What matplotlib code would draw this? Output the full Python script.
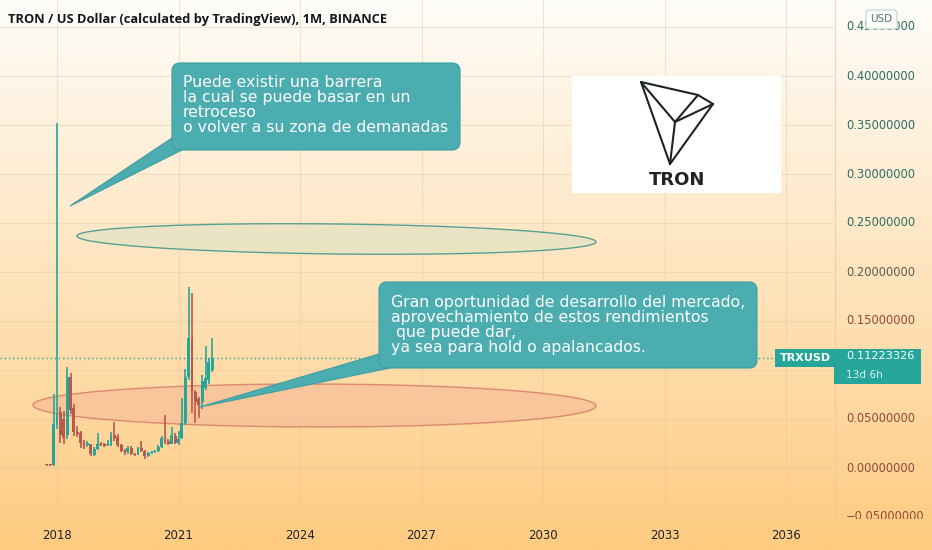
import matplotlib
matplotlib.use("Agg")
import matplotlib.pyplot as plt
import matplotlib.patches as mpatches
from matplotlib.transforms import Affine2D
import numpy as np
import pandas as pd

W, H = 932, 550

# monthly TRX/USD candles
months = pd.period_range("2017-10", "2021-11", freq="M")
opens = [0.0035, 0.0030, 0.0028, 0.0450, 0.0570, 0.0500, 0.0340, 0.0930, 0.0610, 0.0370,
         0.0360, 0.0270, 0.0230, 0.0240, 0.0135, 0.0195, 0.0250, 0.0240, 0.0230, 0.0230,
         0.0340, 0.0320, 0.0230, 0.0170, 0.0160, 0.0200, 0.0140, 0.0135, 0.0200, 0.0170,
         0.0120, 0.0150, 0.0160, 0.0170, 0.0210, 0.0310, 0.0280, 0.0250, 0.0330, 0.0260,
         0.0310, 0.0460, 0.0930, 0.1330, 0.0780, 0.0700, 0.0670, 0.0820, 0.0900, 0.1000]
highs = [0.0040, 0.0036, 0.0760, 0.3520, 0.0620, 0.0580, 0.1030, 0.0970, 0.0650, 0.0430,
         0.0380, 0.0290, 0.0280, 0.0250, 0.0215, 0.0360, 0.0270, 0.0260, 0.0290, 0.0370,
         0.0470, 0.0350, 0.0250, 0.0190, 0.0220, 0.0220, 0.0150, 0.0215, 0.0280, 0.0180,
         0.0160, 0.0175, 0.0185, 0.0230, 0.0330, 0.0540, 0.0300, 0.0420, 0.0360, 0.0380,
         0.0710, 0.1010, 0.1850, 0.1790, 0.0800, 0.0720, 0.0950, 0.1240, 0.1120, 0.1330]
lows = [0.0025, 0.0025, 0.0025, 0.0400, 0.0260, 0.0250, 0.0300, 0.0550, 0.0330, 0.0320,
        0.0200, 0.0190, 0.0215, 0.0120, 0.0120, 0.0180, 0.0220, 0.0210, 0.0220, 0.0220,
        0.0280, 0.0210, 0.0160, 0.0130, 0.0140, 0.0130, 0.0125, 0.0130, 0.0165, 0.0095,
        0.0110, 0.0140, 0.0150, 0.0165, 0.0200, 0.0240, 0.0230, 0.0240, 0.0240, 0.0230,
        0.0300, 0.0440, 0.0900, 0.0560, 0.0460, 0.0510, 0.0600, 0.0800, 0.0860, 0.0980]
closes = [0.0030, 0.0028, 0.0450, 0.0560, 0.0340, 0.0310, 0.0930, 0.0590, 0.0370, 0.0350,
          0.0260, 0.0220, 0.0260, 0.0140, 0.0195, 0.0250, 0.0230, 0.0225, 0.0245, 0.0340,
          0.0310, 0.0230, 0.0170, 0.0160, 0.0200, 0.0140, 0.0135, 0.0200, 0.0170, 0.0120,
          0.0150, 0.0160, 0.0170, 0.0210, 0.0310, 0.0270, 0.0250, 0.0340, 0.0260, 0.0300,
          0.0460, 0.0930, 0.1330, 0.0780, 0.0670, 0.0640, 0.0890, 0.0920, 0.1080, 0.11223326]
last_price = 0.11223326
price_ticks = [-0.05, 0.0, 0.05, 0.10, 0.15, 0.20, 0.25, 0.30, 0.35, 0.40, 0.45]
year_ticks = [2018, 2021, 2024, 2027, 2030, 2033, 2036]

up_col = "#26a69a"
down_col = "#b9584d"

fig = plt.figure(figsize=(W / 100, H / 100), dpi=100)
# reference-pixel transform (x right, y down) for the drawn annotations
pix = Affine2D().scale(1 / 100, -1 / 100).translate(0, H / 100) + fig.dpi_scale_trans

# background gradient
bg = fig.add_axes([0, 0, 1, 1], zorder=-5)
top = np.array([255, 253, 250]) / 255
bot = np.array([254, 203, 128]) / 255
t = np.linspace(0, 1, 256)[:, None]
grad = (top * (1 - t) + bot * t)[:, None, :]
bg.imshow(grad, aspect="auto", extent=[0, 1, 0, 1])
bg.set_axis_off()

plot_bottom = 519
ax = fig.add_axes([0, (H - plot_bottom) / H, 834 / W, plot_bottom / H])
ax.set_facecolor("none")
ax.set_ylim((468 - plot_bottom) / 980, 468 / 980)
ax.set_xlim(-57 / 3.375, 777 / 3.375)

x = np.array([(p.year - 2018) * 12 + p.month - 1 for p in months])
o = np.array(opens)
c = np.array(closes)
cols = [up_col if cc >= oo else down_col for oo, cc in zip(o, c)]
ax.vlines(x, lows, highs, colors=cols, lw=1.2, zorder=3)
ax.bar(x, np.maximum(np.abs(c - o), 0.0012), bottom=np.minimum(o, c), width=0.82,
       color=cols, zorder=3)

ax.set_yticks(price_ticks)
ax.set_xticks([(y - 2018) * 12 for y in year_ticks])
ax.set_xticklabels([str(y) for y in year_ticks], fontsize=8.5, color="#1e222d")
ax.tick_params(axis="x", length=0, pad=7)
ax.tick_params(axis="y", length=0, labelleft=False)
ax.grid(True, color="#e3c6a4", lw=0.8, alpha=0.45)
ax.set_axisbelow(True)
for s in ax.spines.values():
    s.set_visible(False)

ax.axhline(last_price, xmin=0, xmax=775 / 834, color=up_col, lw=1, ls=(0, (1, 2)), zorder=2)


def sheared_ellipse(cx, cy, hw, hh, dy, **kw):
    tt = np.linspace(0, 2 * np.pi, 200)
    xs = cx + hw * np.cos(tt)
    ys = cy + dy * np.cos(tt) + hh * np.sin(tt)
    return mpatches.Polygon(np.column_stack([xs, ys]), closed=True, **kw)


# zones drawn on the chart
ax.add_patch(sheared_ellipse(82.8, 0.2337, 76.9, 0.0153, -0.0030,
                             fc="#e9e4c4", ec="#4e9e92", lw=1.0, alpha=0.95, zorder=4))
ax.add_patch(sheared_ellipse(76.3, 0.0638, 83.4, 0.0219, -0.0005,
                             fc="#f6b896", ec="#c0504d", lw=1.0, alpha=0.55, zorder=2.5))

# price scale
ax2 = fig.add_axes([834 / W, (H - plot_bottom) / H, 98 / W, plot_bottom / H])
ax2.set_facecolor("none")
ax2.set_ylim(ax.get_ylim())
ax2.set_xlim(0, 98)
ax2.set_axis_off()
ax2.axvline(0.5, color="#e3c6a4", lw=0.8, alpha=0.7)
for v in price_ticks:
    f = np.clip((v - 0.15) / 0.10, 0, 1)
    col = np.array([0.56, 0.29, 0.24]) * (1 - f) + np.array([0.18, 0.43, 0.40]) * f
    ax2.text(12, v, f"{v:.8f}".replace("-", "\u2212"), fontsize=8.3, color=col,
             va="center", ha="left", clip_on=True)

# title
title = fig.text(8, 19, "TRON / US Dollar (calculated by TradingView), 1M, BINANCE",
                 transform=pix, fontsize=8, fontweight="bold", family="Open Sans",
                 color="#131722", va="center", ha="left")
r = fig.canvas.get_renderer()
title.set_fontsize(8 * 379 / title.get_window_extent(r).width)

# USD badge
fig.add_artist(mpatches.FancyBboxPatch((866, 10), 31, 19, boxstyle="round,pad=0,rounding_size=3",
                                       transform=pix, fc="#fffdfa", ec="#b9d6d2", lw=0.8))
fig.text(881.5, 19.5, "USD", transform=pix, fontsize=7.5, color="#4a7a74",
         ha="center", va="center")

# last price tag
fig.add_artist(mpatches.Rectangle((775, 349), 59, 18, transform=pix, fc=up_col, ec="none"))
fig.add_artist(mpatches.Rectangle((834, 349), 87, 35, transform=pix, fc=up_col, ec="none"))
fig.text(780, 358, "TRXUSD", transform=pix, fontsize=8, fontweight="bold", color="white",
         va="center", ha="left")
fig.text(846, 356, f"{last_price:.8f}", transform=pix, fontsize=8.2, color="white",
         va="center", ha="left")
fig.text(846, 375.5, "13d 6h", transform=pix, fontsize=7.6, color="#d6f0ec",
         va="center", ha="left")

# TRON logo
fig.add_artist(mpatches.Rectangle((572, 76), 209, 117, transform=pix, fc="white", ec="none"))
A, B, C, D, E = (641, 82), (698, 95), (713, 104), (675, 122), (670, 164)
for p, q in [(A, B), (B, C), (C, E), (E, A), (A, D), (D, E), (D, C), (B, D)]:
    fig.add_artist(plt.Line2D([p[0], q[0]], [p[1], q[1]], transform=pix,
                              color="#1c2424", lw=1.5, solid_capstyle="round"))
fig.text(677, 180, "TRON", transform=pix, fontsize=13, fontweight="bold", color="#222222",
         ha="center", va="center")

# callouts
box_fc = "#4badb0"
box_ec = "#3c9fa2"


def callout(x0, y0, w, h, tail, text, tx, ty):
    fig.add_artist(mpatches.Polygon(tail, closed=True, transform=pix, fc=box_fc, ec=box_ec,
                                    lw=0.8, zorder=5))
    fig.add_artist(mpatches.FancyBboxPatch((x0, y0), w, h,
                                           boxstyle="round,pad=0,rounding_size=8",
                                           transform=pix, fc=box_fc, ec=box_ec, lw=0.8,
                                           zorder=6))
    fig.text(tx, ty, text, transform=pix, fontsize=11.3, color="white", linespacing=0.98,
             ha="left", va="center", family="DejaVu Sans", zorder=7)


callout(172, 63, 288, 87, [(70, 206), (172, 138), (190, 140), (184, 149)],
        "Puede existir una barrera\nla cual se puede basar en un\nretroceso\n"
        "o volver a su zona de demanadas", 183, 105)
callout(379, 282, 378, 86, [(200, 407), (379, 354), (392, 358), (390, 368)],
        "Gran oportunidad de desarrollo del mercado,\naprovechamiento de estos rendimientos\n"
        " que puede dar,\nya sea para hold o apalancados.", 391, 325)

fig.savefig("out.png", dpi=100)
